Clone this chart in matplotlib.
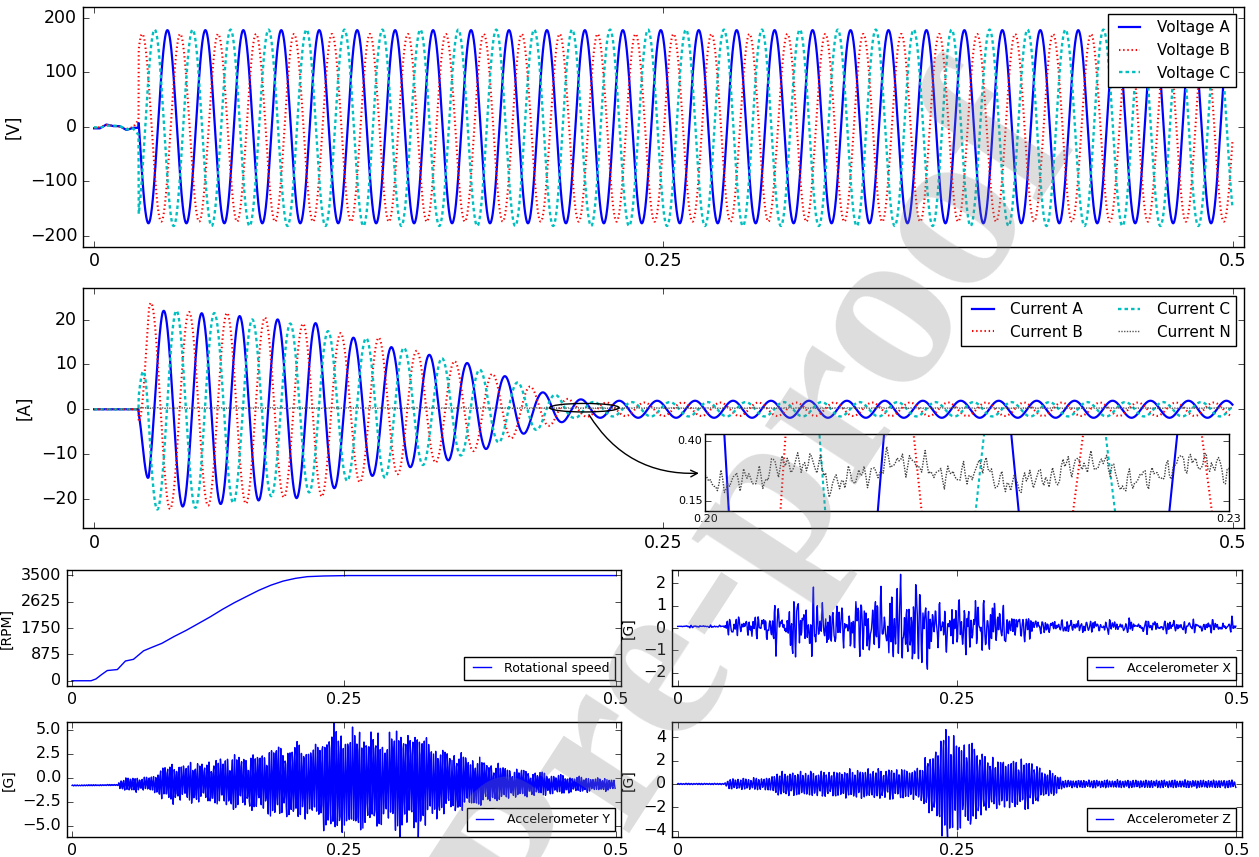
import numpy as np
import matplotlib
matplotlib.use('Agg')
import matplotlib.pyplot as plt
from matplotlib.patches import Ellipse

plt.style.use('classic')

# sampling and supply (60 Hz mains, start at ~0.0196 s)
fs_elec = 10000
fs_acc = 2000
f_line = 60.0
t_on = 0.0196

# voltages: time of first positive peak, peak value, offset
v_peak_t = [0.0322, 0.0378, 0.0266]
v_amp = [177, 172, 180]
v_dc = [0, -2, -2]
v_pre_t = [0, 0.0025, 0.0054, 0.0084, 0.0113, 0.0142, 0.0171, 0.0195]
v_pre_a = [-3, -3, 4, 1, 1, -6, -2, -2]
v_pre_b = [-2, -1, 3, 2, 0, -4, -1, 12]
v_pre_c = [-1, -2, 2, 2, 1, -5, -3, -15]

# currents: time of first positive peak and amplitude envelopes
i_peak_t = [0.0306, 0.0306 - 1 / 180, 0.0306 + 1 / 180]
i_env_t = [0.0196, 0.024, 0.03, 0.045, 0.06, 0.075, 0.09, 0.10, 0.11, 0.125,
           0.14, 0.16, 0.18, 0.195, 0.21, 0.22, 0.5]
i_env_a = [2, 19, 22, 21.5, 21, 20.2, 19.8, 19, 16.5, 14.5, 12.8, 11, 7.5, 4,
           2.4, 1.9, 1.9]
i_env_b = [6, 24, 22.5, 21.5, 21.5, 20.5, 19, 19.5, 16.5, 16, 13.3, 10.5, 7,
           4.5, 2, 1.5, 1.5]
i_env_c = [3, 23, 22, 22, 21, 19.5, 19, 18, 16, 15.8, 13, 10.5, 7, 4.5, 2,
           1.6, 1.6]
# neutral current level over one mains period (from the zoomed inset)
n_pat_t = [0.0, 0.0012, 0.0020, 0.0035, 0.0038, 0.0066, 0.0070, 0.0083, 0.0100,
           0.0103, 0.0128, 0.0131, 0.0155, 0.0158]
n_pat = [0.23, 0.22, 0.25, 0.24, 0.30, 0.31, 0.21, 0.25, 0.27, 0.32, 0.30, 0.26,
         0.26, 0.33]

# rotational speed
rpm_t = [0, 0.0175, 0.022, 0.027, 0.0324, 0.0417, 0.0491, 0.0565, 0.0658,
         0.0733, 0.0826, 0.0938, 0.1049, 0.1161, 0.1272, 0.1384, 0.1496,
         0.1607, 0.1719, 0.1830, 0.1942, 0.2054, 0.2165, 0.2314, 0.2537, 0.5]
rpm = [0, 0, 60, 200, 339, 372, 655, 711, 993, 1106, 1241, 1467, 1670, 1896,
       2122, 2370, 2596, 2799, 3002, 3172, 3307, 3397, 3454, 3476, 3490, 3490]

# accelerometers: amplitude envelopes (approx. peak level) and offsets
acc_x_t = [0, 0.04, 0.045, 0.076, 0.08, 0.10, 0.105, 0.126, 0.13, 0.155, 0.16,
           0.187, 0.19, 0.223, 0.228, 0.245, 0.25, 0.288, 0.295, 0.317, 0.325, 0.5]
acc_x_amp = [0.05, 0.05, 0.4, 0.5, 0.9, 1.0, 1.4, 1.4, 1.0, 1.0, 1.4, 1.5, 2.0,
             2.1, 1.1, 1.0, 1.2, 1.3, 0.6, 0.6, 0.3, 0.25]
acc_x_dc = 0.07
acc_y_t = [0, 0.042, 0.045, 0.077, 0.08, 0.133, 0.137, 0.174, 0.178, 0.218,
           0.225, 0.233, 0.248, 0.281, 0.287, 0.292, 0.326, 0.332, 0.344, 0.366,
           0.404, 0.455, 0.5]
acc_y_amp = [0.05, 0.05, 0.6, 0.7, 1.6, 2.0, 2.4, 2.6, 3.2, 3.6, 3.0, 5.0, 4.8,
             4.5, 3.4, 4.8, 4.5, 3.3, 3.0, 2.4, 1.4, 0.8, 0.5]
acc_y_dc_t = [0, 0.04, 0.1, 0.3, 0.45, 0.5]
acc_y_dc = [-0.8, -0.75, -0.5, -0.3, -0.7, -0.7]
acc_z_t = [0, 0.042, 0.046, 0.083, 0.088, 0.144, 0.15, 0.216, 0.222, 0.231,
           0.236, 0.245, 0.25, 0.267, 0.272, 0.281, 0.29, 0.317, 0.325, 0.338,
           0.345, 0.5]
acc_z_amp = [0.05, 0.05, 0.4, 0.5, 0.9, 1.0, 1.1, 1.2, 2.1, 2.5, 4.2, 4.3, 3.4,
             3.2, 2.4, 2.0, 1.9, 1.9, 1.1, 0.9, 0.3, 0.3]
acc_z_dc = 0.0
# vibration components seen in the traces (Hz) and their relative weights
acc_x_freq = [57, 131, 229, 283, 347, 401, 467, 523, 611]
acc_x_w = [0.6, 0.7, 0.9, 1.0, 1.0, 0.9, 1.0, 0.8, 0.7]
acc_y_freq = [470, 58, 173, 289, 523, 347]
acc_y_w = [1.0, 0.1, 0.08, 0.08, 0.1, 0.05]
acc_z_freq = [430, 117, 233, 347, 529, 611]
acc_z_w = [1.0, 0.1, 0.1, 0.08, 0.08, 0.05]

xtick_vals = [0, 0.25, 0.5]
xtick_text = ['0', '0.25', '0.5']

# ---- build the traces
t_el = np.arange(0, 0.5, 1 / fs_elec)
t_ac = np.arange(0, 0.5, 1 / fs_acc)
on = t_el >= t_on
T = 1 / f_line


def voltage(k, pre):
    v = np.interp(t_el, v_pre_t, pre)
    v[on] = v_dc[k] + v_amp[k] * np.cos(2 * np.pi * f_line * (t_el[on] - v_peak_t[k]))
    return v


def current(k, env):
    i = np.zeros_like(t_el)
    i[on] = np.interp(t_el[on], i_env_t, env) * np.cos(2 * np.pi * f_line * (t_el[on] - i_peak_t[k]))
    return i


va, vb, vc = voltage(0, v_pre_a), voltage(1, v_pre_b), voltage(2, v_pre_c)
ia, ib, ic = current(0, i_env_a), current(1, i_env_b), current(2, i_env_c)
i_n = np.zeros_like(t_el)
i_n[on] = (np.interp((t_el[on] - 0.2) % T, n_pat_t, n_pat, period=T)
           + 0.025 * np.sin(2 * np.pi * 1370 * t_el[on])
           + 0.02 * np.sin(2 * np.pi * 2310 * t_el[on] + 1)
           + 0.015 * np.sin(2 * np.pi * 3170 * t_el[on] + 2))


def accel(freqs, weights, env_t, env, dc, q):
    c = sum(w * np.sin(2 * np.pi * f * t_ac + 1.7 * j)
            for j, (f, w) in enumerate(zip(freqs, weights)))
    c = c / np.percentile(np.abs(c), q)
    return dc + np.interp(t_ac, env_t, env) * c


acc_x = accel(acc_x_freq, acc_x_w, acc_x_t, acc_x_amp, acc_x_dc, 97)
acc_y = accel(acc_y_freq, acc_y_w, acc_y_t, acc_y_amp,
              np.interp(t_ac, acc_y_dc_t, acc_y_dc), 88)
acc_z = accel(acc_z_freq, acc_z_w, acc_z_t, acc_z_amp, acc_z_dc, 88)

# ---- figure
fig = plt.figure(figsize=(12.59, 8.57), dpi=100, facecolor='white')
big = 12.5
small = 11.5

ax1 = fig.add_axes([0.0657, 0.7121, 0.9224, 0.2801])
ax1.plot(t_el, va, 'b-', lw=1.6, label='Voltage A')
ax1.plot(t_el, vb, 'r:', lw=1.5, dashes=(1, 2), label='Voltage B')
ax1.plot(t_el, vc, 'c--', lw=1.7, dashes=(2.5, 2.2), label='Voltage C')
ax1.set_ylim(-220, 220)
ax1.set_yticks([-200, -100, 0, 100, 200])
ax1.set_ylabel('[V]', fontsize=12)
ax1.legend(loc='upper right', fontsize=11)

ax2 = fig.add_axes([0.0657, 0.3839, 0.9224, 0.2797])
ax2.plot(t_el, ia, 'b-', lw=1.6, label='Current A')
ax2.plot(t_el, ib, 'r:', lw=1.5, dashes=(1, 2), label='Current B')
ax2.plot(t_el, ic, 'c--', lw=1.7, dashes=(2.5, 2.2), label='Current C')
ax2.plot(t_el, i_n, ':', color='0.35', lw=1, dashes=(1, 1), label='Current N')
ax2.set_ylim(-26.5, 27)
ax2.set_yticks([-20, -10, 0, 10, 20])
ax2.set_ylabel('[A]', fontsize=12)
ax2.legend(loc='upper right', ncol=2, fontsize=11)
ax2.add_patch(Ellipse((0.2153, 0.35), 0.0305, 1.9, fill=False, ec='k', lw=1, zorder=5))
ax2.annotate('', xy=(0.533, 0.229), xycoords='axes fraction',
             xytext=(0.2167, -0.7), textcoords='data',
             arrowprops=dict(arrowstyle='->', color='k', lw=1,
                             connectionstyle='arc3,rad=0.3'))

ins = ax2.inset_axes([0.536, 0.071, 0.451, 0.321])
ins.plot(t_el, ia, 'b-', lw=1.5)
ins.plot(t_el, ib, 'r:', lw=1.5, dashes=(1, 2))
ins.plot(t_el, ic, 'c--', lw=1.5, dashes=(2.5, 2.2))
ins.plot(t_el, i_n, ':', color='0.25', lw=1, dashes=(1, 1))
ins.set_xlim(0.20, 0.23)
ins.set_ylim(0.11, 0.43)
ins.set_xticks([0.20, 0.23])
ins.set_xticklabels(['0.20', '0.23'], fontsize=8)
ins.set_yticks([0.15, 0.40])
ins.set_yticklabels(['0.15', '0.40'], fontsize=8)
ins.tick_params(pad=2)

for ax in (ax1, ax2):
    ax.set_xlim(-0.005, 0.505)
    ax.set_xticks(xtick_vals)
    ax.set_xticklabels(xtick_text)
    ax.tick_params(labelsize=big)

ax3 = fig.add_axes([0.0529, 0.1995, 0.4404, 0.1354])
ax3.plot(rpm_t, rpm, 'b-', lw=1, label='Rotational speed')
ax3.set_ylim(-175, 3675)
ax3.set_yticks([0, 875, 1750, 2625, 3500])
ax3.set_ylabel('[RPM]', fontsize=10)

ax4 = fig.add_axes([0.5338, 0.1995, 0.4527, 0.1354])
ax4.plot(t_ac, acc_x, 'b-', lw=1, label='Accelerometer X')
ax4.set_ylim(-2.6, 2.6)
ax4.set_yticks([-2, -1, 0, 1, 2])
ax4.set_ylabel('[G]', fontsize=10)

ax5 = fig.add_axes([0.0529, 0.0228, 0.4404, 0.1348])
ax5.plot(t_ac, acc_y, 'b-', lw=1, label='Accelerometer Y')
ax5.set_ylim(-6.2, 5.8)
ax5.set_yticks([-5, -2.5, 0, 2.5, 5])
ax5.set_ylabel('[G]', fontsize=10)

ax6 = fig.add_axes([0.5338, 0.0228, 0.4527, 0.1348])
ax6.plot(t_ac, acc_z, 'b-', lw=1, label='Accelerometer Z')
ax6.set_ylim(-4.56, 5.29)
ax6.set_yticks([-4, -2, 0, 2, 4])
ax6.set_ylabel('[G]', fontsize=10)

for ax in (ax3, ax4, ax5, ax6):
    ax.set_xlim(-0.005, 0.505)
    ax.set_xticks(xtick_vals)
    ax.set_xticklabels(xtick_text)
    ax.tick_params(labelsize=small)
    ax.legend(loc='lower right', fontsize=9)

# watermark
fig.text(0.818, 0.872, 'Journal Pre-proof', rotation=57, rotation_mode='anchor',
         ha='right', va='center', fontsize=170, family='Liberation Serif',
         weight='bold', color='0.5', alpha=0.27, zorder=20)

fig.savefig('out.png', dpi=100, facecolor='white')
